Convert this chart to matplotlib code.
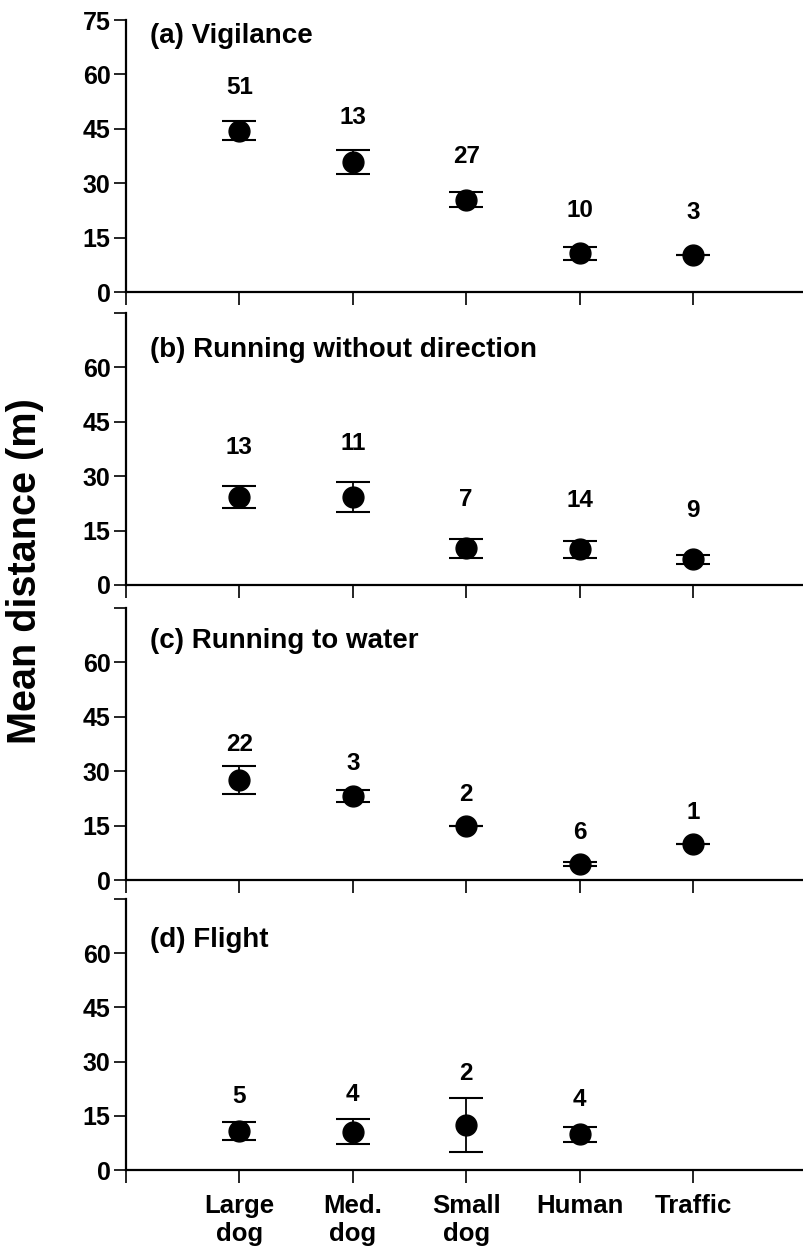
import numpy as np
import matplotlib
matplotlib.use('Agg')
import matplotlib.pyplot as plt

# categories on the x axis
categories = ["Large\ndog", "Med.\ndog", "Small\ndog", "Human", "Traffic"]

# (a) vigilance
vig_mean = [44.5, 35.8, 25.4, 10.7, 10.1]
vig_se = [2.6, 3.3, 2.1, 1.8, 0.0]
vig_n = [51, 13, 27, 10, 3]

# (b) running without direction
run_mean = [24.3, 24.3, 10.1, 9.8, 7.1]
run_se = [3.1, 4.2, 2.6, 2.45, 1.25]
run_n = [13, 11, 7, 14, 9]

# (c) running to water
water_mean = [27.6, 23.2, 14.9, 4.3, 9.8]
water_se = [3.95, 1.7, 0.0, 0.55, 0.0]
water_n = [22, 3, 2, 6, 1]

# (d) flight (no traffic data)
flight_mean = [10.8, 10.6, 12.4, 9.9, np.nan]
flight_se = [2.5, 3.4, 7.5, 2.05, np.nan]
flight_n = [5, 4, 2, 4, None]

titles = ["(a) Vigilance", "(b) Running without direction",
          "(c) Running to water", "(d) Flight"]

FONT = "Liberation Sans"
W, H = 804, 1248


def draw_panel(fig, top_px, bottom_px, title, mean, se, n, title_dy, gap_px, last):
    left_px = 126
    step_px = 113.4
    ax = fig.add_axes([left_px / W, 1 - bottom_px / H,
                       6 * step_px / W, (bottom_px - top_px) / H])
    x = np.arange(1, len(categories) + 1)
    ax.errorbar(x, mean, yerr=se, fmt='o', color='black', markersize=15,
                elinewidth=1.3, capsize=12, capthick=1.5, zorder=3)
    ax.set_xlim(0, 6)
    ax.set_ylim(0, 75)
    ax.set_yticks(np.arange(0, 76, 15))
    if top_px < 100:
        ax.set_yticklabels([str(v) for v in range(0, 76, 15)])
    else:
        ax.set_yticklabels([str(v) for v in range(0, 61, 15)] + [""])
    ax.set_xticks(np.arange(0, 6))
    if last:
        ax.set_xticklabels([""] + categories, fontsize=18.5, fontweight='bold',
                           family=FONT, linespacing=1.25)
    else:
        ax.set_xticklabels([])
    for lab in ax.get_yticklabels():
        lab.set_fontsize(18)
        lab.set_fontweight('bold')
        lab.set_family(FONT)
    for side in ['top', 'right']:
        ax.spines[side].set_visible(False)
    for side in ['left', 'bottom']:
        ax.spines[side].set_linewidth(1.6)
    ax.tick_params(direction='out', length=9, width=1.2, pad=2)
    ax.tick_params(axis='x', pad=8)

    ax.text((150 - left_px) / (6 * step_px), 1 - title_dy / (bottom_px - top_px), title,
            transform=ax.transAxes, ha='left', va='top', fontsize=20,
            fontweight='bold', family=FONT)

    # sample sizes above each point
    per_unit = (bottom_px - top_px) * 0.72 / 75
    for xi, m, s, k in zip(x, mean, se, n):
        if k is None:
            continue
        off = max(s * per_unit, 7.5) + gap_px * 0.72
        ax.annotate(str(k), xy=(xi, m), xytext=(0, off), textcoords='offset points',
                    ha='center', va='bottom', fontsize=17.5, fontweight='bold',
                    family=FONT)
    return ax


def main():
    fig = plt.figure(figsize=(W / 100, H / 100), dpi=100)
    panels = [(20, 292, vig_mean, vig_se, vig_n, 3, 21),
              (313, 585, run_mean, run_se, run_n, 24, 27),
              (608, 880, water_mean, water_se, water_n, 20, 10),
              (899, 1170, flight_mean, flight_se, flight_n, 28, 13)]
    for i, (t, b, m, s, n, dy, gap) in enumerate(panels):
        draw_panel(fig, t, b, titles[i], m, s, n, dy, gap, i == 3)
    fig.text(25 / W, 1 - 571 / H, "Mean distance (m)", rotation=90, ha='center',
             va='center', fontsize=28.5, fontweight='bold', family=FONT)
    plt.savefig('out.png', dpi=100)


if __name__ == "__main__":
    main()
